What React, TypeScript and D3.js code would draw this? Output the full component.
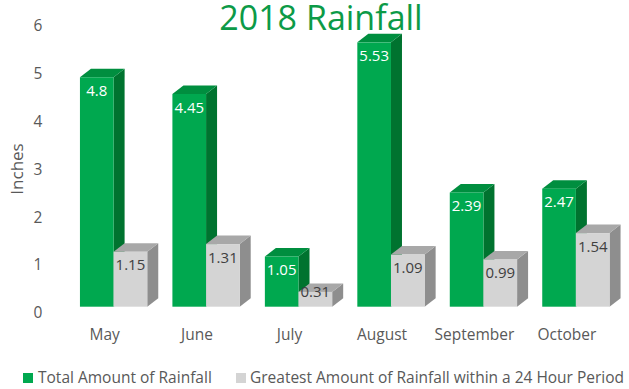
import React from "react";
import * as d3 from "d3";

const months = ["May", "June", "July", "August", "September", "October"];
const totalRain = [4.8, 4.45, 1.05, 5.53, 2.39, 2.47];
const maxDayRain = [1.15, 1.31, 0.31, 1.09, 0.99, 1.54];
const seriesNames = ["Total Amount of Rainfall", "Greatest Amount of Rainfall within a 24 Hour Period"];
const yTicks = [0, 1, 2, 3, 4, 5, 6];

const W = 629;
const H = 389;
const FONT = "'Open Sans', sans-serif";

const palettes = [
  { front: "#00A84F", side: "#00732F", top: "#008E3F", label: "#FFFFFF" },
  { front: "#D4D4D4", side: "#8E8E8E", top: "#A8A8A8", label: "#404040" },
];

export default function App() {
  const x = d3.scaleBand<string>().domain(months).range([54.8, 634.7]).paddingInner(0.272).paddingOuter(0.272);
  const xs = d3.scaleBand<string>().domain(["a", "b"]).range([0, x.bandwidth()]).padding(0);
  const y = d3.scaleLinear().domain([0, 6]).range([306.7, 19.9]);
  const dx = 11;
  const dy = -8.5;
  const series = [totalRain, maxDayRain];

  const bars: React.ReactNode[] = [];
  months.forEach((m, i) => {
    series.forEach((vals, s) => {
      const v = vals[i];
      const x0 = (x(m) as number) + (xs(s === 0 ? "a" : "b") as number);
      const w = xs.bandwidth();
      const x1 = x0 + w;
      const yt = y(v);
      const yb = y(0);
      const p = palettes[s];
      const labelY = Math.min(yt + 13.5, yb - 15);
      bars.push(
        <g key={`${m}-${s}`}>
          <polygon points={`${x1},${yt} ${x1 + dx},${yt + dy} ${x1 + dx},${yb + dy} ${x1},${yb}`} fill={p.side} />
          <polygon points={`${x0},${yt} ${x0 + dx},${yt + dy} ${x1 + dx},${yt + dy} ${x1},${yt}`} fill={p.top} />
          <rect x={x0} y={yt} width={w} height={yb - yt} fill={p.front} />
          <text x={x0 + w / 2} y={labelY} dy="0.35em" textAnchor="middle" fontSize={15} fill={p.label} fontFamily={FONT}>
            {String(v)}
          </text>
        </g>
      );
    });
  });

  return (
    <svg width={W} height={H} style={{ position: "absolute", left: 0, top: 0, background: "#fff" }}>
      <text x={321} y={30} textAnchor="middle" fontSize={34} fill="#0C9A47" fontFamily={FONT}>
        2018 Rainfall
      </text>
      <text transform={`translate(17,169) rotate(-90)`} textAnchor="middle" fontSize={17} fill="#595959" fontFamily={FONT} dy="0.35em">
        Inches
      </text>
      {yTicks.map((t) => (
        <text key={t} x={38} y={y(t) + 6} dy="0.35em" textAnchor="middle" fontSize={15.5} fill="#595959" fontFamily={FONT}>
          {t}
        </text>
      ))}
      {bars}
      {months.map((m) => (
        <text key={m} x={(x(m) as number) + x.bandwidth() / 2 - 9} y={335} dy="0.35em" textAnchor="middle" fontSize={15.5} fill="#595959" fontFamily={FONT}>
          {m}
        </text>
      ))}
      <g fontFamily={FONT} fontSize={15.5} fill="#595959">
        <rect x={23} y={373} width={10} height={10} fill={palettes[0].front} />
        <text x={38} y={378} dy="0.35em">{seriesNames[0]}</text>
        <rect x={236} y={373} width={10} height={10} fill={palettes[1].front} />
        <text x={250} y={378} dy="0.35em" textLength={374} lengthAdjust="spacing">{seriesNames[1]}</text>
      </g>
    </svg>
  );
}
